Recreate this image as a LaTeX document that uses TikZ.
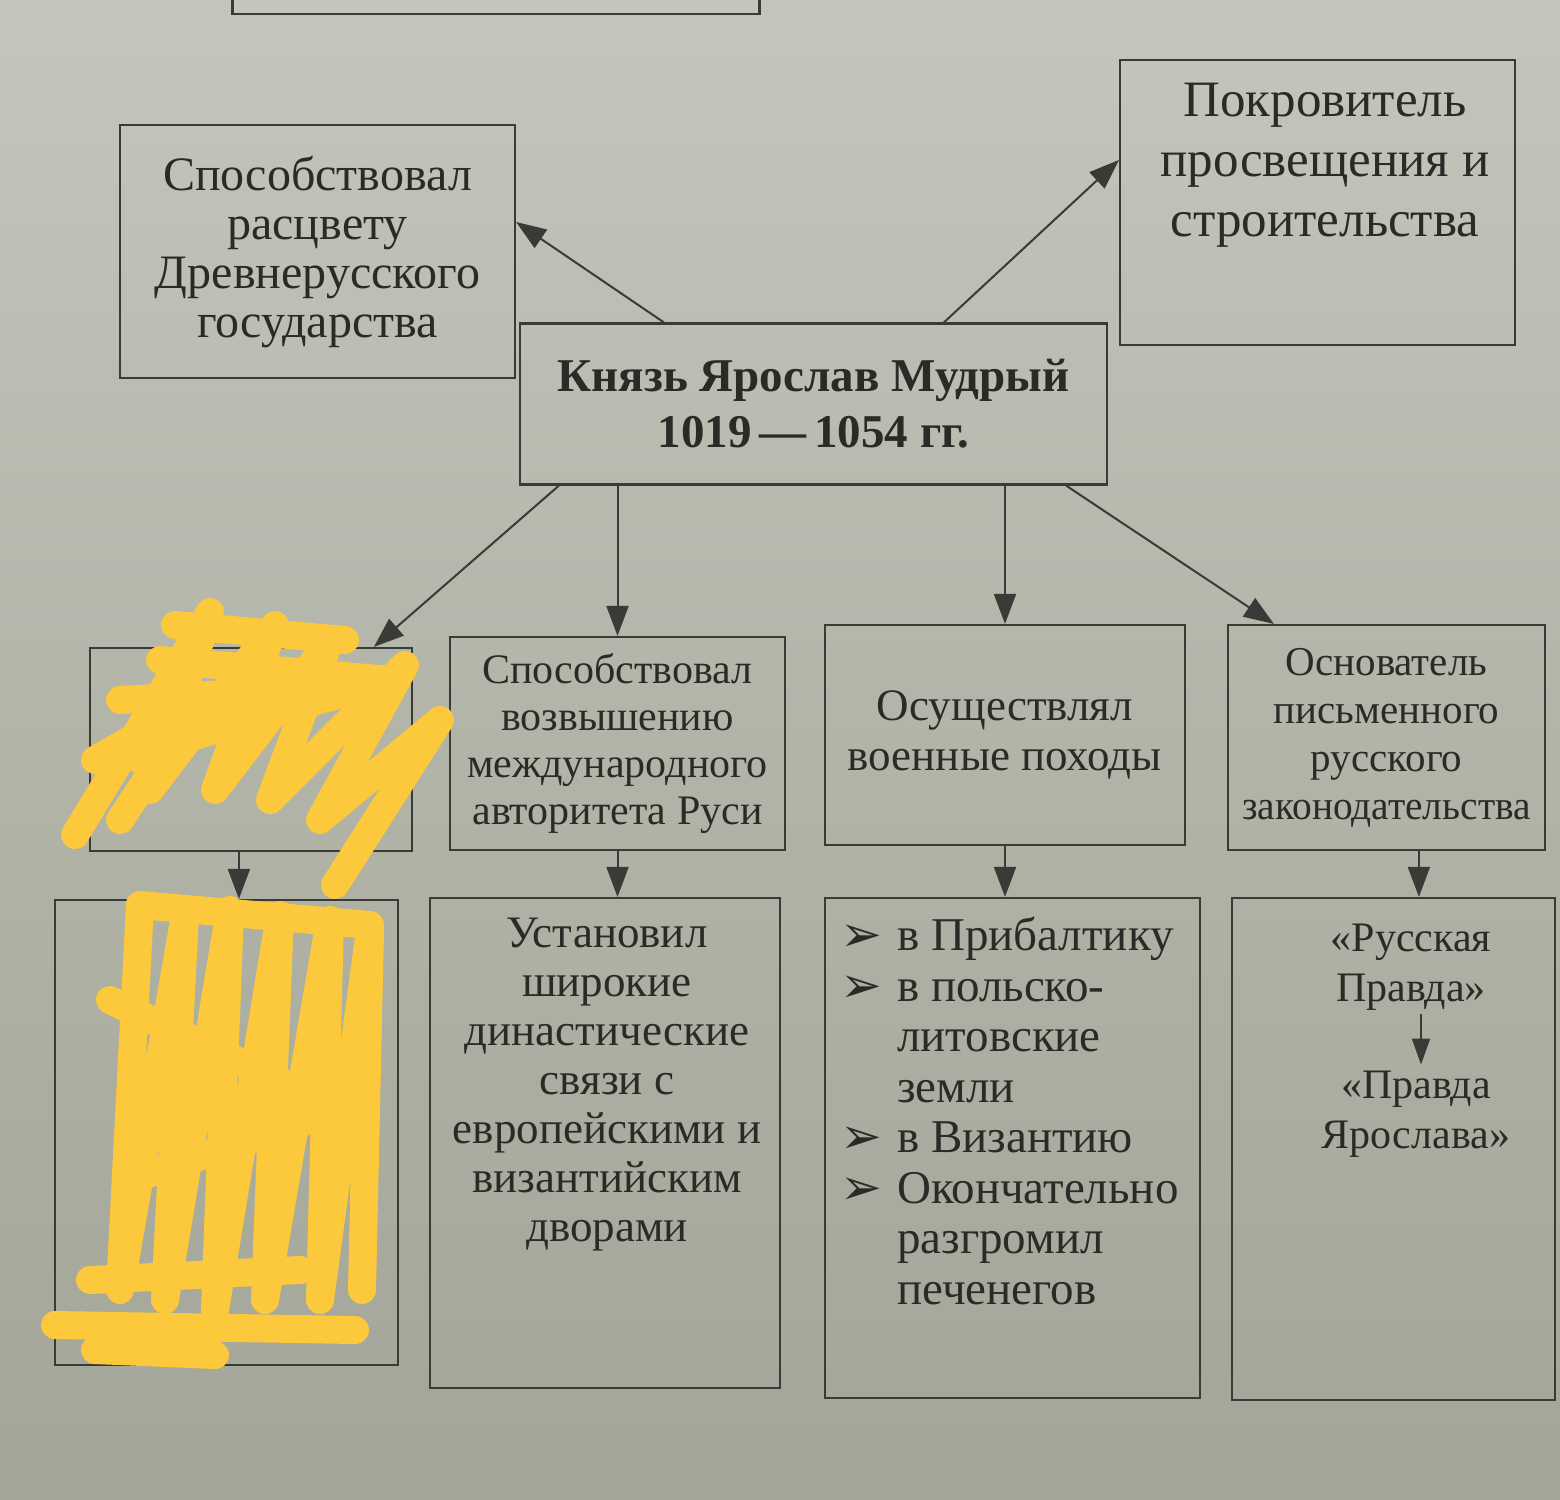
\documentclass[tikz,border=0pt]{standalone}
\usepackage{fontspec}
\setmainfont{Liberation Serif}
\newfontfamily\dv{DejaVu Sans}
\usetikzlibrary{arrows.meta,calc}
\definecolor{paper}{HTML}{B1B4A7}
\definecolor{paperlight}{HTML}{C3C6BB}
\definecolor{paperdark}{HTML}{A2A598}
\definecolor{ink}{HTML}{2A2A27}
\definecolor{linec}{HTML}{3A3A36}
\definecolor{marker}{HTML}{FCC83C}
\tikzset{
  box/.style={draw=linec, line width=2.2pt, inner sep=0pt},
  txt/.style={text=ink, align=center, inner sep=0pt},
  arr/.style={draw=linec, line width=2pt, -{Triangle[length=30pt,width=22pt]}},
  sarr/.style={draw=linec, line width=2pt, -{Triangle[length=26pt,width=18pt]}},
  scrib/.style={draw=marker, line width=28pt, line cap=round, line join=round}
}
\newcommand{\bul}{\makebox[57pt][l]{\raisebox{-1pt}{\dv\fontsize{50}{50}\selectfont ➢}}}
\begin{document}
\begin{tikzpicture}[x=1pt,y=-1pt]
\useasboundingbox (0,0) rectangle (1560,1499);
\clip (0,0) rectangle (1560,1499);
\fill[top color=paperlight, bottom color=paperdark, middle color=paper] (0,0) rectangle (1560,1499);

% partial box at the very top
\node[box, minimum width=527pt, minimum height=120pt] (b0) at (496,-46) {};

% upper boxes
\node[box, minimum width=395pt, minimum height=253pt, txt, font=\fontsize{48}{49}\selectfont] (b1) at (317.5,251.5)
  {Способствовал\\расцвету\\Древнерусского\\государства};
\node[box, minimum width=395pt, minimum height=285pt] (b2) at (1317.5,202.5) {};
\node[txt, font=\fontsize{51}{60}\selectfont] (t2) at (1325,165)
  {Покровитель\\просвещения и\\строительства};

% central box
\node[box, minimum width=587pt, minimum height=161pt, txt, font=\bfseries\fontsize{47}{56}\selectfont] (kn) at (813.5,404)
  {Князь Ярослав Мудрый\\1019\,—\,1054 гг.};

% middle row
\node[box, minimum width=322pt, minimum height=203pt] (b3) at (251,749.5) {};
\node[box, minimum width=335pt, minimum height=213pt, txt, font=\fontsize{42}{47}\selectfont] (b5) at (617.5,743.5)
  {Способствовал\\возвышению\\международного\\авторитета Руси};
\node[box, minimum width=360pt, minimum height=220pt, txt, font=\fontsize{45}{50}\selectfont] (b6) at (1005,735)
  {Осуществлял\\военные походы};
\node[box, minimum width=317pt, minimum height=225pt, txt, font=\fontsize{41}{48}\selectfont] (b7) at (1386.5,737.5)
  {Основатель\\письменного\\русского\\\scalebox{0.96}[1]{законодательства}};

% bottom row
\node[box, minimum width=343pt, minimum height=465pt] (b4) at (226.5,1132.5) {};
\node[box, minimum width=350pt, minimum height=490pt] (b8) at (605,1143) {};
\node[txt, anchor=north, font=\fontsize{45}{49}\selectfont] (t8) at (607,918)
  {Установил\\широкие\\династические\\связи с\\европейскими и\\византийским\\дворами};
\node[box, minimum width=375pt, minimum height=500pt] (b9) at (1012.5,1148) {};
\node[txt, align=left, anchor=north west, font=\fontsize{47}{50.5}\selectfont] (t9) at (840,917)
  {\bul в Прибалтику\\
   \bul в польско-\\
   \hspace*{57pt}литовские\\
   \hspace*{57pt}земли\\
   \bul в Византию\\
   \bul Окончательно\\
   \hspace*{57pt}разгромил\\
   \hspace*{57pt}печенегов};
\node[box, minimum width=323pt, minimum height=502pt] (b10) at (1393.5,1149) {};
\node[txt, font=\fontsize{42}{50}\selectfont] (r1) at (1411,967) {«Русская\\Правда»};
\node[txt, font=\fontsize{42}{50}\selectfont] (r2) at (1416,1114) {«Правда\\Ярослава»};

% connectors from the central box
\draw[arr] ($(kn.north west)+(145,0)$) -- ($(b1.east)+(0,-29.5)$);
\draw[arr] ($(kn.north west)+(425,0)$) -- ($(b2.west)+(0,-42.5)$);
\draw[arr] ($(kn.south west)+(40,0)$) -- ($(b3.north west)+(285,0)$);
\draw[arr] (kn.south -| b5.north) -- (b5.north);
\draw[arr] (kn.south -| b6.north) -- (b6.north);
\draw[arr] ($(kn.south east)+(-42,0)$) -- ($(b7.north west)+(47,0)$);

% row to row
\draw[arr] ($(b3.south west)+(150,0)$) -- ($(b4.north west)+(185,0)$);
\draw[arr] (b5.south) -- (b5.south |- b8.north);
\draw[arr] (b6.south) -- (b6.south |- b9.north);
\draw[arr] ($(b7.south west)+(192,0)$) -- ($(b10.north west)+(188,0)$);
\draw[sarr] ($(r1.south)+(10,4)$) -- ($(r2.north)+(5,-6)$);

% marker scribble
\draw[scrib] (75,835) -- (210,612) -- (150,790) -- (275,625) -- (215,790) -- (330,640)
  -- (270,800) -- (405,665) -- (320,820) -- (440,720) -- (335,885);
\draw[scrib] (175,625) -- (345,640);
\draw[scrib] (95,760) -- (200,700) -- (120,820);
\draw[scrib] (120,700) -- (300,690) -- (140,760);
\draw[scrib] (160,660) -- (390,680) -- (180,740);
\draw[scrib] (140,905) -- (120,1290) -- (185,915) -- (165,1300) -- (230,910) -- (215,1310)
  -- (280,915) -- (265,1300) -- (330,920) -- (320,1300) -- (370,930) -- (362,1290);
\draw[scrib] (140,905) -- (370,925);
\draw[scrib] (110,1000) -- (340,1110) -- (130,1180);
\draw[scrib] (55,1325) -- (355,1330);
\draw[scrib] (95,1350) -- (215,1355);
\draw[scrib] (90,1280) -- (300,1270);
\end{tikzpicture}
\end{document}
